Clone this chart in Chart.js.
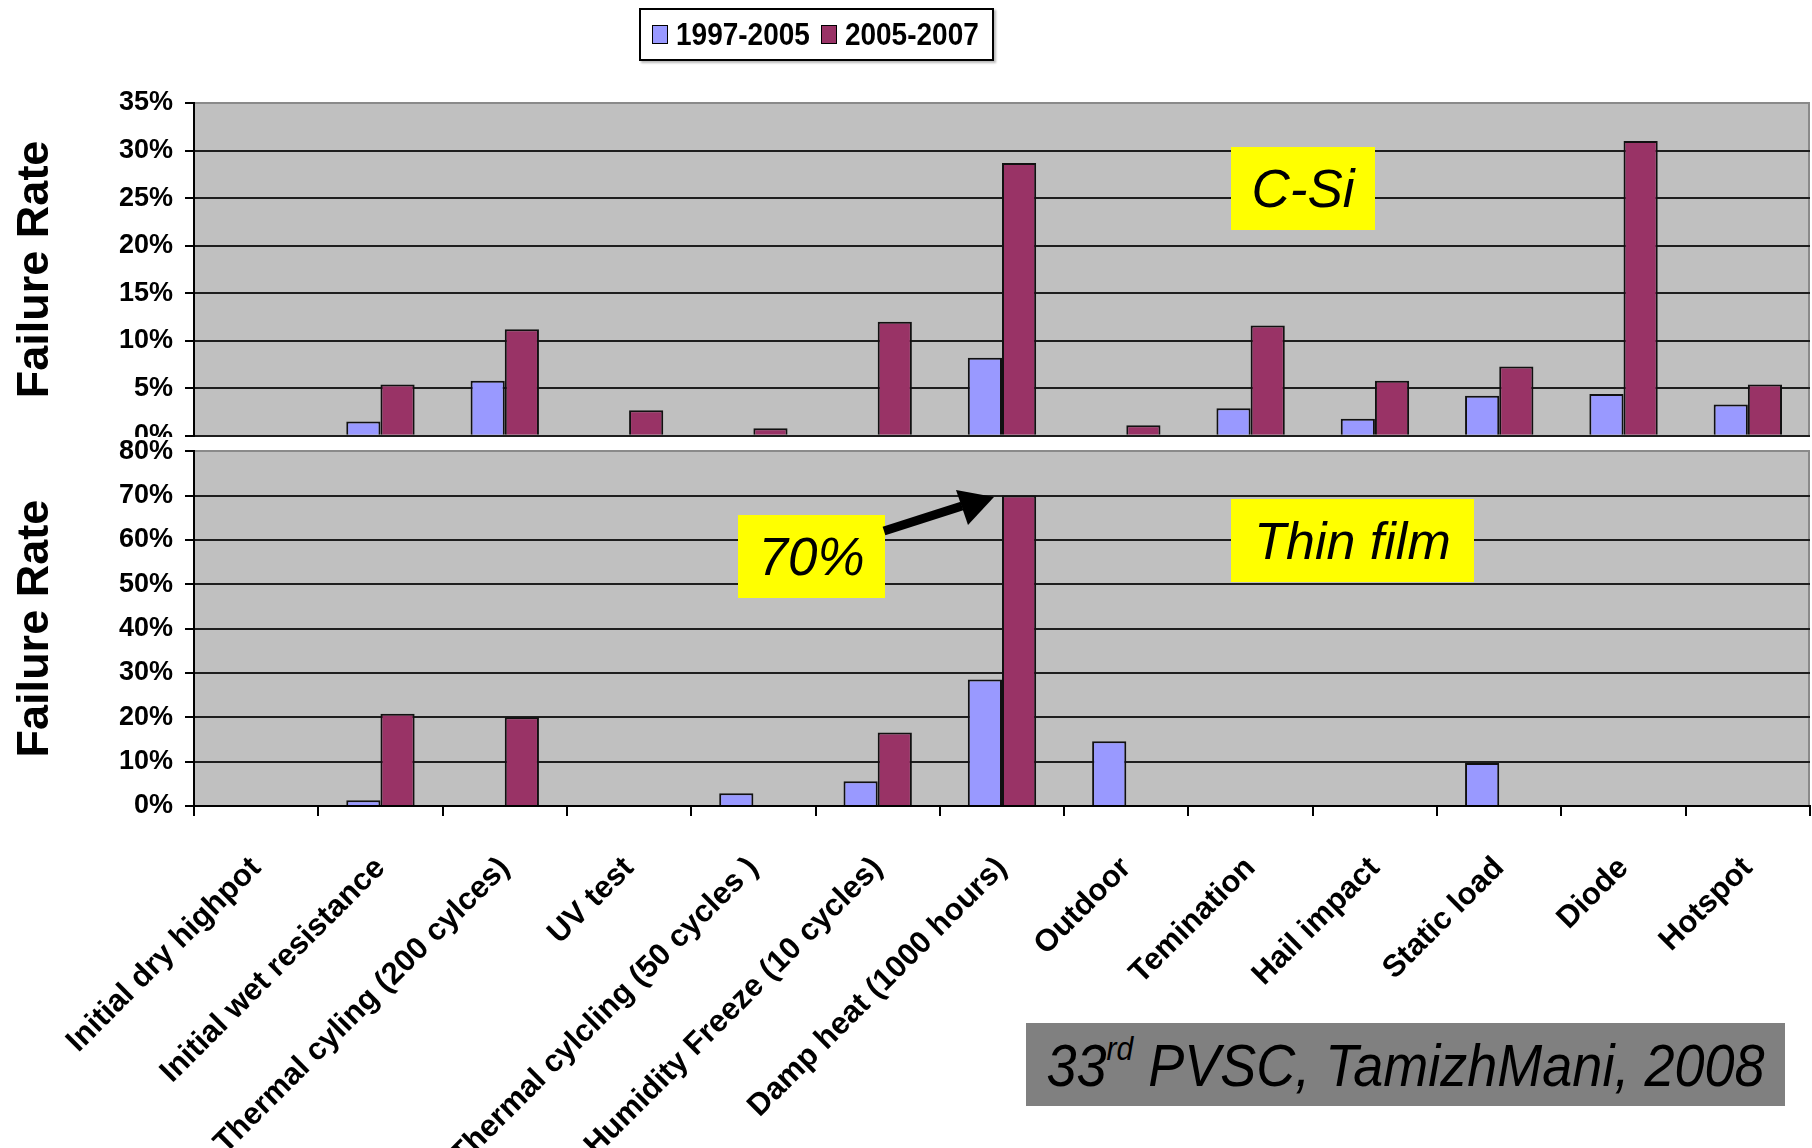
<!DOCTYPE html>
<html>
<head>
<meta charset="utf-8">
<script src="https://cdn.jsdelivr.net/npm/chart.js@4.4.1/dist/chart.umd.min.js"></script>
<style>
  body { margin: 0; background: #fff; font-family: 'Liberation Sans', Arial, sans-serif; }
  #page { position: relative; width: 1812px; height: 1148px; overflow: hidden; background: #fff; }
  #topBox { position: absolute; left: 0; top: 0; width: 1812px; height: 464px; }
  #band { position: absolute; left: 0; top: 437px; width: 1812px; height: 711px; background: #fff; }
  #bottomBox { position: absolute; left: 0; top: 423px; width: 1812px; height: 725px; }
  #legend { position: absolute; left: 639px; top: 8px; width: 351px; height: 49px; border: 2px solid #000;
            background: #fff; box-shadow: 2px 2px 2px #bbb; display: flex; align-items: center; }
  .item { display: flex; align-items: center; font-weight: bold; font-size: 28px; margin-left: 11px; }
  .item span.txt { display: inline-block; transform: scaleY(1.12); }
  .swatch { width: 14px; height: 17px; border: 1.5px solid #000; margin-right: 8px; }
  .note { position: absolute; background: #ffff00; font-style: italic; color: #000;
          display: flex; align-items: center; justify-content: center; }
  #source { position: absolute; left: 1026px; top: 1023px; width: 759px; height: 83px; background: #808080;
            font-style: italic; font-size: 54px; display: flex; align-items: center; justify-content: center; }
  #source span { display: inline-block; transform: scaleY(1.1); }
  #source sup { font-size: 30px; vertical-align: 24px; }
</style>
</head>
<body>
<div id="page">
  <div id="topBox"><canvas id="topChart"></canvas></div>
  <div id="band"></div>
  <div id="bottomBox"><canvas id="bottomChart"></canvas></div>
  <div id="legend"></div>
  <div class="note" style="left:1231px;top:147px;width:144px;height:83px;font-size:53px;">C-Si</div>
  <div class="note" style="left:1231px;top:499px;width:243px;height:83px;font-size:52px;">Thin film</div>
  <div class="note" style="left:738px;top:515px;width:147px;height:83px;font-size:53px;">70%</div>
  <svg style="position:absolute;left:0;top:0;" width="1812" height="1148">
    <line x1="884" y1="531" x2="962" y2="506" stroke="#000" stroke-width="9"/>
    <polygon points="994,497 956,490 968,525" fill="#000"/>
  </svg>
  <div id="source"><span>33<sup>rd</sup> PVSC, TamizhMani, 2008</span></div>
</div>
<script>
'use strict';
//Global Variables
const categories = ['Initial dry highpot', 'Initial wet resistance', 'Thermal cyling (200 cylces)', 'UV test',
  'Thermal cylcling (50 cycles )', 'Humidity Freeze (10 cycles)', 'Damp heat (1000 hours)', 'Outdoor',
  'Temination', 'Hail impact', 'Static load', 'Diode', 'Hotspot'];
const periods = ['1997-2005', '2005-2007'];
const colors = ['#9999ff', '#993366'];

// C-Si failure rates (%)
const cSiOld = [null, 1.5, 5.8, null, null, null, 8.2, null, 2.9, 1.8, 4.2, 4.4, 3.3];
const cSiNew = [null, 5.4, 11.2, 2.7, 0.8, 12.0, 28.7, 1.1, 11.6, 5.8, 7.3, 31.0, 5.4];
// Thin film failure rates (%)
const thinOld = [null, 1.3, null, null, 2.9, 5.6, 28.5, 14.6, null, null, 9.7, null, null];
const thinNew = [null, 20.8, 20.0, null, null, 16.6, 70, null, null, null, null, null, null];

const topTicks = [0, 5, 10, 15, 20, 25, 30, 35];
const bottomTicks = [0, 10, 20, 30, 40, 50, 60, 70, 80];

const FONT = "'Liberation Sans', Arial, sans-serif";

//legend
const div_legend = document.getElementById('legend');
for (let i = 0; i < periods.length; i++) {
  const item = document.createElement('div');
  item.className = 'item';
  item.innerHTML = `<span class="swatch" style="background:${colors[i]}"></span><span class="txt">${periods[i]}</span>`;
  div_legend.appendChild(item);
}

//plot background + grey frame
const plotFrame = {
  id: 'plotFrame',
  beforeDraw(chart) {
    const ctx = chart.ctx;
    const a = chart.chartArea;
    ctx.save();
    ctx.fillStyle = '#c0c0c0';
    ctx.fillRect(a.left, a.top, a.right - a.left, a.bottom - a.top);
    ctx.strokeStyle = '#8a8a8a';
    ctx.lineWidth = 2;
    ctx.beginPath();
    ctx.moveTo(a.right - 1, a.top);
    ctx.lineTo(a.right - 1, a.bottom);
    ctx.stroke();
    ctx.restore();
  }
};

function makeDatasets(oldVals, newVals) {
  return [oldVals, newVals].map((vals, i) => ({
    label: periods[i],
    data: vals,
    backgroundColor: colors[i],
    borderColor: '#111',
    borderWidth: 2,
    categoryPercentage: 0.55,
    barPercentage: 1.0
  }));
}

function yAxis(tickList) {
  const max = tickList[tickList.length - 1];
  return {
    min: 0,
    max: max,
    afterBuildTicks: axis => { axis.ticks = tickList.map(v => ({ value: v })); },
    afterFit: scale => { scale.width = 194; },
    border: { color: '#000', width: 2 },
    grid: {
      color: c => (c.tick && c.tick.value === max ? '#8a8a8a' : '#1e1e1e'),
      lineWidth: 2,
      tickLength: 9,
      tickColor: '#000'
    },
    ticks: {
      color: '#000',
      padding: 12,
      font: { family: FONT, size: 27, weight: 'bold' },
      callback: v => v + '%'
    },
    title: {
      display: true,
      text: 'Failure Rate',
      color: '#000',
      padding: { top: 9, bottom: 0 },
      font: { family: FONT, size: 45, weight: 'bold' }
    }
  };
}

const baseOptions = {
  responsive: false,
  animation: false,
  plugins: { legend: { display: false }, tooltip: { enabled: false } }
};

const topCanvas = document.getElementById('topChart');
topCanvas.width = 1812;
topCanvas.height = 464;
new Chart(topCanvas, {
  type: 'bar',
  data: { labels: categories, datasets: makeDatasets(cSiOld, cSiNew) },
  options: Object.assign({}, baseOptions, {
    layout: { padding: { top: 103, right: 2, bottom: 5, left: 0 } },
    scales: {
      x: { display: false },
      y: yAxis(topTicks)
    }
  }),
  plugins: [plotFrame]
});

const bottomCanvas = document.getElementById('bottomChart');
bottomCanvas.width = 1812;
bottomCanvas.height = 725;
new Chart(bottomCanvas, {
  type: 'bar',
  data: { labels: categories, datasets: makeDatasets(thinOld, thinNew) },
  options: Object.assign({}, baseOptions, {
    layout: { padding: { top: 12, right: 2, bottom: 0, left: 0 } },
    scales: {
      x: {
        afterFit: scale => { scale.height = 342; },
        border: { color: '#000', width: 2 },
        grid: { drawOnChartArea: false, tickLength: 10, color: '#000', lineWidth: 2 },
        ticks: {
          color: '#000',
          autoSkip: false,
          minRotation: 45,
          maxRotation: 45,
          padding: 34,
          font: { family: FONT, size: 31, weight: 'bold' }
        }
      },
      y: yAxis(bottomTicks)
    }
  }),
  plugins: [plotFrame]
});
</script>
</body>
</html>
